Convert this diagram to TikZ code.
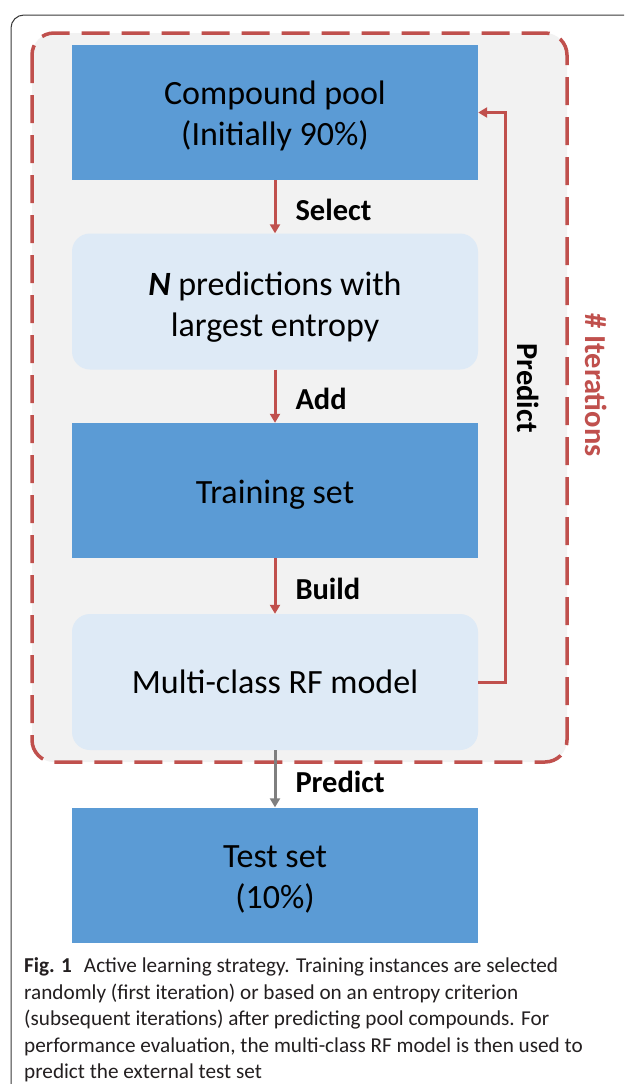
\documentclass[tikz,border=0pt]{standalone}
\usepackage{fontspec}
\setmainfont{Carlito}
\usetikzlibrary{arrows.meta}
\definecolor{boxblue}{HTML}{5B9BD5}
\definecolor{paleblue}{HTML}{DEEAF6}
\definecolor{poolgray}{HTML}{F2F2F2}
\definecolor{loopred}{HTML}{C0504D}
\definecolor{predgray}{HTML}{7F7F7F}
\definecolor{framegray}{HTML}{3A3A3A}
\definecolor{captionblack}{HTML}{231F20}
\newcommand{\boxstrut}[1][31pt]{\rule{0pt}{#1}}

\begin{document}
\begin{tikzpicture}[x=1pt,y=-1pt]
        \useasboundingbox (0,0) rectangle (624,1084);
        \clip (0,0) rectangle (624,1084);
        \fill[white] (0,0) rectangle (624,1084);
        \draw[framegray, line width=1pt, rounded corners=13pt] (11,15) rectangle (700,1200);
        \draw[loopred, fill=poolgray, line width=3.5pt, dash pattern=on 28pt off 12pt, rounded corners=22pt] (32,33) rectangle (567,762);

        \begin{scope}[every node/.style={rectangle, fill=boxblue, minimum width=406pt, minimum height=135pt, align=center, font=\fontsize{34}{41}\selectfont}]
            \node (pool) at (275,112.5) {\boxstrut Compound pool\\(Initially 90\%)};
            \node (train) at (275,490.5) {\boxstrut Training set};
            \node (test) at (275,875) {\boxstrut Test set\\(10\%)};
        \end{scope}

        \begin{scope}[every node/.style={rectangle, rounded corners=18pt, fill=paleblue, minimum width=406pt, minimum height=136pt, align=center, font=\fontsize{34}{41}\selectfont}]
            \node (entropy) at (275,301.5) {\boxstrut[34pt]\textbf{\textit{N}} predictions with\\largest entropy};
            \node (model) at (275,682) {Multi-class RF model};
        \end{scope}

        \begin{scope}[
            every edge/.style={draw=loopred, line width=3pt, -{Triangle[length=9pt,width=10pt]}},
            every node/.style={right=17pt, yshift=-3pt, inner sep=2pt, font=\fontsize{30.5}{36}\selectfont\bfseries}]
            \path (pool) edge node {Select} (entropy);
            \path (entropy) edge node {Add} (train);
            \path (train) edge node {Build} (model);
            \path (model) edge[draw=predgray] node {Predict} (test);
        \end{scope}

        \coordinate (loop) at (505,400);
        \draw[loopred, line width=3pt, -{Triangle[length=9pt,width=10pt]}] (model.east) -| (loop) |- (pool.east);
        \node (loopname) [rotate=-90, font=\fontsize{30.5}{36}\selectfont\bfseries] at (528,388) {Predict};
        \node (iters) [rotate=-90, text=loopred, font=\fontsize{30.5}{36}\selectfont\bfseries] at (596,385) {\# Iterations};

        \node (caption) [anchor=north west, inner sep=0pt, align=left, text=captionblack, font=\fontsize{21.2}{26.5}\selectfont] at (24,957.5)
            {\textbf{Fig. 1}\hspace{12pt}Active learning strategy. Training instances are selected\\
             randomly (first iteration) or based on an entropy criterion\\
             (subsequent iterations) after predicting pool compounds. For\\
             performance evaluation, the multi-class RF model is then used to\\
             predict the external test set};
\end{tikzpicture}
\end{document}
